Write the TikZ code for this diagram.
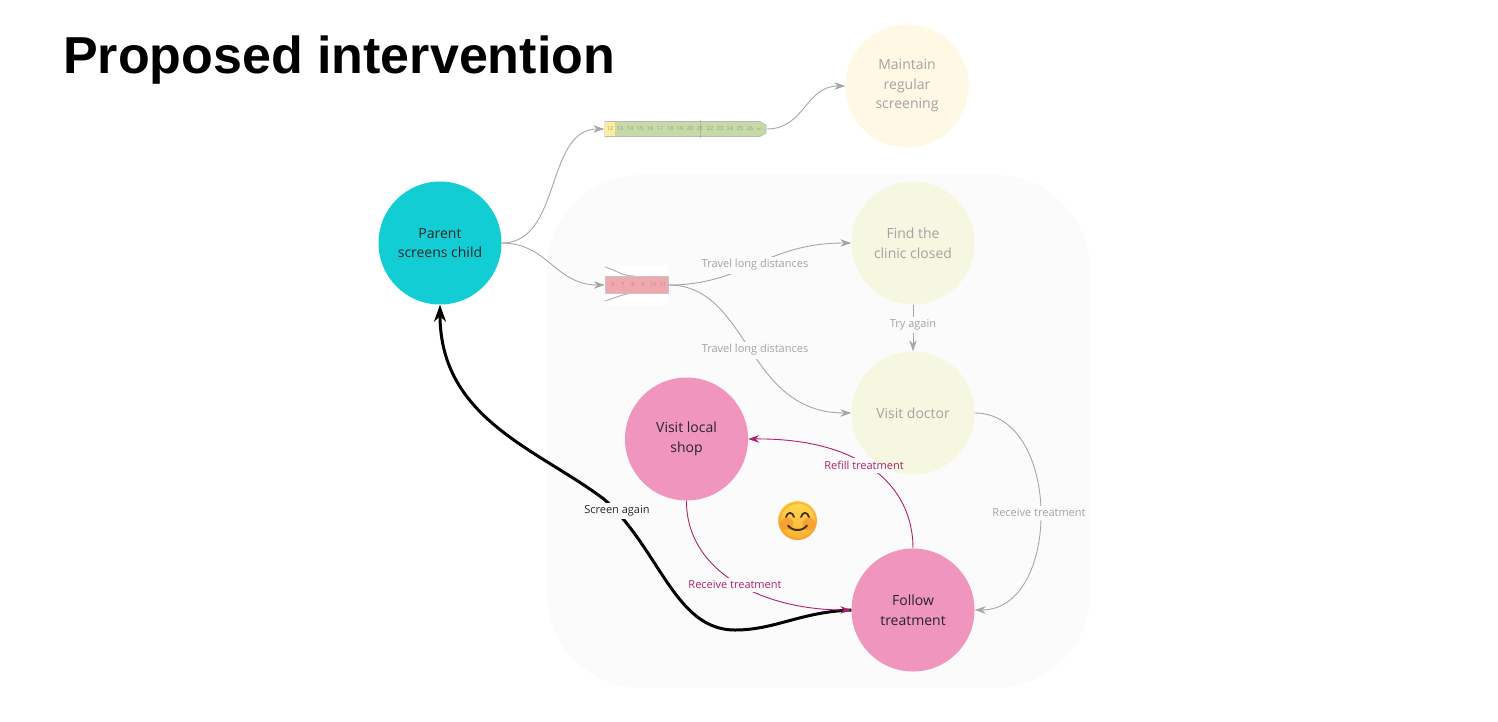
\documentclass[tikz,border=0pt]{standalone}
\usepackage{fontspec}
\setmainfont{Open Sans}
\newfontfamily\titlefont{Liberation Sans}
\usetikzlibrary{arrows.meta,calc,fadings}
\definecolor{gline}{HTML}{A6A6A6}
\definecolor{gtext}{HTML}{A3A3A3}
\definecolor{magen}{HTML}{B0206E}
\definecolor{cyanc}{HTML}{12CDD4}
\definecolor{pinkc}{HTML}{EF95BE}
\definecolor{yelc}{HTML}{FEF8E4}
\definecolor{limec}{HTML}{F5F7E0}
\definecolor{panel}{HTML}{FBFBFB}
\definecolor{rulegreen}{HTML}{C6DAA6}
\definecolor{ruleyel}{HTML}{FBEE9C}
\definecolor{rulered}{HTML}{F0A8AE}
\definecolor{emtop}{HTML}{FFDA4E}
\definecolor{embot}{HTML}{F9B233}
\definecolor{emcheek}{HTML}{F5822A}
\definecolor{emline}{HTML}{4A3010}
\tikzset{
  x=1pt,y=-1pt,
  stage/.style={circle,minimum size=123pt,inner sep=0pt,align=center,font=\fontsize{14}{19.5}\selectfont},
  faded/.style={stage,text=gtext},
  conn/.style={draw=gline,line width=.9pt,-{Stealth[length=11pt,width=7.5pt]}},
  mconn/.style={draw=magen,line width=.9pt,-{Stealth[length=11pt,width=7.5pt]}},
  lab/.style={font=\fontsize{11}{13}\selectfont,inner xsep=1.5pt,inner ysep=3pt},
  tick/.style={font=\fontsize{5.5}{6}\selectfont,text=black!40,inner sep=0pt},
}
\begin{document}
\begin{tikzpicture}
\useasboundingbox[fill=white] (0,0) rectangle (1498,721);
\fill[panel,rounded corners=95pt] (547,175) rectangle (1090,688);
\node[anchor=west,inner sep=0pt,font=\titlefont\bfseries\fontsize{52}{60}\selectfont] (title) at (63,60) {Proposed intervention};

\node[stage,fill=cyanc,text=black!85] (parent) at (440,243) {Parent\\screens child};
\node[faded,fill=yelc] (maintain) at (907,86) {Maintain\\regular\\screening};
\node[faded,fill=limec] (find) at (913,243) {Find the\\clinic closed};
\node[faded,fill=limec] (doctor) at (913,413) {Visit doctor};
\node[stage,fill=pinkc,text=black!85] (shop) at (686.5,439) {Visit local\\shop};
\node[stage,fill=pinkc,text=black!85] (follow) at (913,610) {Follow\\treatment};

% top ruler
\node[minimum width=162pt,minimum height=16pt,inner sep=0pt] (rulerA) at (685.5,129) {};
\fill[rulegreen,draw=black!28,line width=.6pt] (605,121.5) -- (760,121.5) -- (766,125) -- (766,133) -- (760,136.5) -- (605,136.5) -- cycle;
\fill[ruleyel] (605.3,121.8) rectangle (615,136.2);
\draw[black!30,line width=.5pt] (700.5,120) -- (700.5,138);
\foreach \n [count=\i from 0] in {12,13,...,26}
  \node[tick] at ({610+\i*10},129) {\n};
\node[tick] at (759,129) {$\infty$};

% lower ruler
\fill[white] (605,265) rectangle (668,305);
\draw[black!30,line width=1pt] (605,267) .. controls (618,271) and (622,276) .. (634,276);
\draw[black!30,line width=1pt] (605,301) .. controls (618,297) and (622,294) .. (634,293);
\node[minimum width=63pt,minimum height=17pt,inner sep=0pt,fill=rulered,draw=black!22,line width=.4pt] (rulerB) at (636.5,285) {};
\foreach \n [count=\i from 0] in {6,7,8,9,10,11}
  \node[tick] at ({613+\i*10},285) {\n};

% connectors
\draw[conn] (parent.east) .. controls (562,243) and (545,129) .. (rulerA.west);
\draw[conn] (parent.east) .. controls (548,243) and (555,285) .. (rulerB.west);
\draw[conn] (rulerA.east) .. controls (805,129) and (805,86) .. (maintain.west);
\draw[conn] (rulerB.east) .. controls (745,285) and (765,243) .. (find.west);
\draw[conn] (rulerB.east) .. controls (750,285) and (745,413) .. (doctor.west);
\draw[conn] (find.south) -- (doctor.north);
\draw[conn] (doctor.east) .. controls (1062,413) and (1062,610) .. (follow.east);
\draw[mconn] (follow.north) .. controls (913,485) and (860,438) .. (shop.east);
\draw[line width=3pt,black,-{Stealth[length=17pt,width=12pt]}] (follow.west)
  .. controls (800,612) and (775,630) .. (735,630)
  .. controls (675,630) and (660,550) .. (605,500)
  .. controls (540,450) and (440,420) .. (parent.south);
\draw[mconn] (shop.south) .. controls (686,570) and (760,610) .. (follow.west);

% labels
\node[lab,text=gtext,fill=panel] (l1) at (755,265) {Travel long distances};
\node[lab,text=gtext,fill=panel] (l2) at (755,350) {Travel long distances};
\node[lab,text=gtext,fill=panel] (l3) at (913,325) {Try again};
\node[lab,text=gtext,fill=panel] (l4) at (1039,513) {Receive treatment};
\node[lab,text=magen,fill=panel,path picture={\fill[limec] (doctor) circle (61.5pt);}] (l5) at (864,465.5) {Refill treatment};
\node[lab,text=magen,fill=panel] (l6) at (735,585) {Receive treatment};
\node[lab,text=black!85,fill=panel] (l7) at (617,511) {Screen again};

% emoji
\begin{scope}[shift={(797.5,520.5)}]
  \shade[top color=emtop,bottom color=embot] (0,0) circle (19.5pt);
  \fill[emcheek,opacity=.55,path fading=fuzzy ring 15 percent] (0,0) circle (19.5pt);
  \fill[emcheek,opacity=.5,path fading=circle with fuzzy edge 15 percent] (-11,3) circle (7pt);
  \fill[emcheek,opacity=.5,path fading=circle with fuzzy edge 15 percent] (11,3) circle (7pt);
  \draw[emline,line width=1.8pt,line cap=round] (-11.5,-3.5) .. controls (-10,-9) and (-5,-9) .. (-3.5,-3.5);
  \draw[emline,line width=1.8pt,line cap=round] (3.5,-3.5) .. controls (5,-9) and (10,-9) .. (11.5,-3.5);
  \draw[emline,line width=2pt,line cap=round] (-9.5,5) .. controls (-5,11) and (5,11) .. (9.5,5);
\end{scope}
\end{tikzpicture}
\end{document}
